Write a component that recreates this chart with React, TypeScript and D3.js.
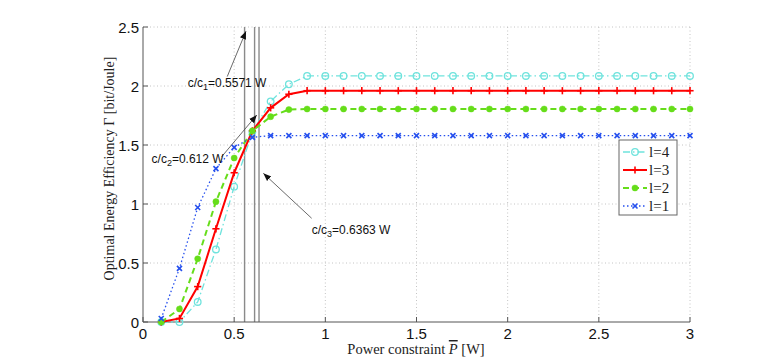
import React from 'react';
import * as d3 from 'd3';

const powerX = [0.1, 0.2, 0.3, 0.4, 0.5, 0.6, 0.7, 0.8, 0.9, 1.0, 1.1, 1.2, 1.3, 1.4, 1.5, 1.6, 1.7, 1.8, 1.9, 2.0, 2.1, 2.2, 2.3, 2.4, 2.5, 2.6, 2.7, 2.8, 2.9, 3.0];
const effL4 = [0, 0, 0.17, 0.615, 1.147, 1.61, 1.87, 2.015, 2.085, 2.085, 2.085, 2.085, 2.085, 2.085, 2.085, 2.085, 2.085, 2.085, 2.085, 2.085, 2.085, 2.085, 2.085, 2.085, 2.085, 2.085, 2.085, 2.085, 2.085, 2.085];
const effL3 = [0, 0.03, 0.3, 0.79, 1.265, 1.62, 1.815, 1.93, 1.96, 1.96, 1.96, 1.96, 1.96, 1.96, 1.96, 1.96, 1.96, 1.96, 1.96, 1.96, 1.96, 1.96, 1.96, 1.96, 1.96, 1.96, 1.96, 1.96, 1.96, 1.96];
const effL2 = [0, 0.11, 0.536, 1.02, 1.39, 1.62, 1.74, 1.8, 1.805, 1.805, 1.805, 1.805, 1.805, 1.805, 1.805, 1.805, 1.805, 1.805, 1.805, 1.805, 1.805, 1.805, 1.805, 1.805, 1.805, 1.805, 1.805, 1.805, 1.805, 1.805];
const effL1 = [0.03, 0.455, 0.97, 1.3, 1.48, 1.565, 1.58, 1.58, 1.58, 1.58, 1.58, 1.58, 1.58, 1.58, 1.58, 1.58, 1.58, 1.58, 1.58, 1.58, 1.58, 1.58, 1.58, 1.58, 1.58, 1.58, 1.58, 1.58, 1.58, 1.58];

const seriesNames = ['l=4', 'l=3', 'l=2', 'l=1'];
const xTicks = [0, 0.5, 1, 1.5, 2, 2.5, 3];
const xTickLabels = ['0', '0.5', '1', '1.5', '2', '2.5', '3'];
const yTicks = [0, 0.5, 1, 1.5, 2, 2.5];
const yTickLabels = ['0', '0.5', '1', '1.5', '2', '2.5'];
const thresholdIdx = ['1', '2', '3'];
const thresholdVals = [0.5571, 0.612, 0.6363];
const thresholdText = ['0.5571 W', '0.612 W', '0.6363 W'];

// annotation geometry in data units: [textX, textY, arrowFromX, arrowFromY, arrowToX, arrowToY]
const annotGeom = [
  [0.245, 1.99, 0.462, 2.08, 0.565, 2.465],
  [0.047, 1.345, 0.431, 1.40, 0.624, 1.754],
  [0.925, 0.745, 0.925, 0.879, 0.66, 1.26],
];

const styles = [
  { color: '#6fe3dd', dash: '7,3,1.5,3', width: 1.3, marker: 'circle' },
  { color: '#ff0000', dash: null, width: 2, marker: 'plus' },
  { color: '#66dd1a', dash: '6,4', width: 2, marker: 'dot' },
  { color: '#2650ee', dash: '1.5,2.5', width: 1.3, marker: 'x' },
];

const W = 763;
const H = 362;

function Marker({ type, x, y, color }: { type: string; x: number; y: number; color: string }) {
  if (type === 'circle') return <circle cx={x} cy={y} r={3.3} fill="none" stroke={color} strokeWidth={1.3} />;
  if (type === 'dot') return <circle cx={x} cy={y} r={3.1} fill={color} stroke={color} strokeWidth={0.4} />;
  if (type === 'plus')
    return (
      <g stroke={color} strokeWidth={1.6}>
        <line x1={x - 3.6} x2={x + 3.6} y1={y} y2={y} />
        <line x1={x} x2={x} y1={y - 3.6} y2={y + 3.6} />
      </g>
    );
  return (
    <g stroke={color} strokeWidth={1.6}>
      <line x1={x - 2.5} x2={x + 2.5} y1={y - 2.5} y2={y + 2.5} />
      <line x1={x - 2.5} x2={x + 2.5} y1={y + 2.5} y2={y - 2.5} />
    </g>
  );
}

export default function App() {
  const x = d3.scaleLinear().domain([0, 3]).range([143, 690]);
  const y = d3.scaleLinear().domain([0, 2.5]).range([322, 27]);
  const allSeries = [effL4, effL3, effL2, effL1];
  const line = d3
    .line<number>()
    .x((_, i) => x(powerX[i]))
    .y((d) => y(d));

  const sans = "'Liberation Sans', Arial, sans-serif";
  const serif = "'Liberation Serif', 'Times New Roman', serif";

  const legX = 619;
  const legY = 140;

  return (
    <svg width={W} height={H} style={{ position: 'absolute', left: 0, top: 0 }} xmlns="http://www.w3.org/2000/svg">
      <rect width={W} height={H} fill="#fff" />
      <defs>
        <marker id="ah" viewBox="0 0 10 10" refX="10" refY="5" markerWidth="8" markerHeight="8" markerUnits="userSpaceOnUse" orient="auto">
          <path d="M0,1 L10,5 L0,9 z" fill="#111" />
        </marker>
      </defs>
      {/* grid */}
      <g stroke="#c4c4c4" strokeWidth={1} strokeDasharray="1,2.5">
        {xTicks.slice(1).map((t) => (
          <line key={'gx' + t} x1={x(t)} x2={x(t)} y1={y(0)} y2={y(2.5)} />
        ))}
        {yTicks.slice(1).map((t) => (
          <line key={'gy' + t} x1={x(0)} x2={x(3)} y1={y(t)} y2={y(t)} />
        ))}
      </g>
      {/* threshold lines */}
      <g stroke="#8a8a8a" strokeWidth={1.4}>
        {thresholdVals.map((v) => (
          <line key={'th' + v} x1={x(v)} x2={x(v)} y1={y(0)} y2={y(2.5)} />
        ))}
      </g>
      {/* axes */}
      <g stroke="#555" strokeWidth={1}>
        <line x1={x(0)} x2={x(3)} y1={y(0)} y2={y(0)} />
        <line x1={x(0)} x2={x(0)} y1={y(0)} y2={y(2.5)} />
        {xTicks.map((t) => (
          <line key={'tx' + t} x1={x(t)} x2={x(t)} y1={y(0)} y2={y(0) - 5} />
        ))}
        {yTicks.map((t) => (
          <line key={'ty' + t} x1={x(0)} x2={x(0) + 5} y1={y(t)} y2={y(t)} />
        ))}
      </g>
      <g fontFamily={sans} fontSize={15} fill="#111">
        {xTicks.map((t, i) => (
          <text key={'lx' + t} x={x(t)} y={339} textAnchor="middle">
            {xTickLabels[i]}
          </text>
        ))}
        {yTicks.map((t, i) => (
          <text key={'ly' + t} x={x(0) - 4} y={y(t) + 5.5} textAnchor="end">
            {yTickLabels[i]}
          </text>
        ))}
      </g>
      {/* series */}
      {allSeries.map((s, si) => (
        <g key={'s' + si}>
          <path d={line(s) || ''} fill="none" stroke={styles[si].color} strokeWidth={styles[si].width} strokeDasharray={styles[si].dash || undefined} />
          {s.map((v, i) => (
            <Marker key={i} type={styles[si].marker} x={x(powerX[i])} y={y(v)} color={styles[si].color} />
          ))}
        </g>
      ))}
      {/* annotations */}
      {annotGeom.map((g, i) => (
        <g key={'an' + i}>
          <line x1={x(g[2])} y1={y(g[3])} x2={x(g[4])} y2={y(g[5])} stroke="#444" strokeWidth={0.8} markerEnd="url(#ah)" />
          <text x={x(g[0])} y={y(g[1])} fontFamily={sans} fontSize={12} fill="#111">
            c/c
            <tspan fontSize={9} dy={3}>{thresholdIdx[i]}</tspan>
            <tspan dy={-3}>={thresholdText[i]}</tspan>
          </text>
        </g>
      ))}
      {/* legend */}
      <rect x={legX} y={legY} width={58} height={75} fill="#fff" stroke="#666" strokeWidth={1} />
      {seriesNames.map((n, i) => {
        const ly = legY + 12 + i * 18;
        const st = styles[i];
        return (
          <g key={'lg' + i}>
            <line x1={legX + 4} x2={legX + 28} y1={ly} y2={ly} stroke={st.color} strokeWidth={st.width} strokeDasharray={st.dash || undefined} />
            <Marker type={st.marker} x={legX + 16} y={ly} color={st.color} />
            <text x={legX + 30} y={ly + 5} fontFamily={serif} fontSize={15} fill="#222">
              {n}
            </text>
          </g>
        );
      })}
      {/* axis titles */}
      <text x={416} y={354} textAnchor="middle" fontFamily={serif} fontSize={14.5} fill="#222">
        Power constraint{' '}
        <tspan fontStyle="italic" textDecoration="overline" style={{ textDecoration: 'overline' }}>
          P
        </tspan>{' '}
        [W]
      </text>
      <text transform="translate(114,168.5) rotate(-90)" textAnchor="middle" fontFamily={serif} fontSize={14} fill="#222">
        Optimal Energy Efficiency Γ [bit/Joule]
      </text>
    </svg>
  );
}
